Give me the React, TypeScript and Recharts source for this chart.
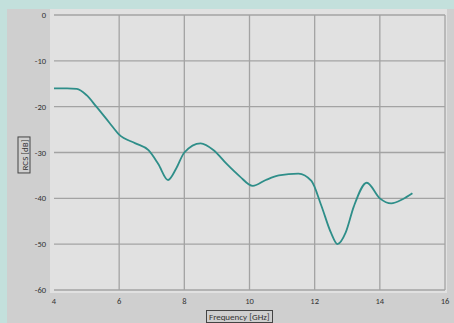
import { LineChart, Line, XAxis, YAxis, CartesianGrid } from "recharts"

const frequency = [
  4.0, 4.4, 4.7, 5.0, 5.3, 5.7, 6.0, 6.5, 6.9, 7.2, 7.5, 7.75, 8.0, 8.5, 8.9, 9.3,
  9.7, 10.1, 10.5, 10.9, 11.5, 11.9, 12.2, 12.5, 12.7, 12.95, 13.2, 13.6, 14.0,
  14.35, 14.7, 15.0,
]
const rcs = [
  -16.0, -16.0, -16.1, -17.5, -20.0, -23.5, -26.1, -28.0, -29.5, -32.5, -36.0,
  -33.5, -30.0, -28.0, -29.5, -32.5, -35.2, -37.3, -36.0, -35.0, -34.6, -36.2,
  -41.5, -47.5, -50.0, -47.5, -41.8, -36.6, -40.0, -41.1, -40.2, -38.9,
]
const xTicks = [4, 6, 8, 10, 12, 14, 16]
const yTicks = [0, -10, -20, -30, -40, -50, -60]
// vertical gridlines (none at the left edge)
const xGrid = [6, 8, 10, 12, 14, 16]
const xDomain = [4, 16]

const data = frequency.map((f, i) => ({ f, rcs: rcs[i] }))

const font = "Calibri, Carlito, 'Liberation Sans', Arial, sans-serif"

const verticalGrid = (props: any) => {
  const { offset } = props
  const span = xDomain[1] - xDomain[0]
  return xGrid.map((v) => offset.left + ((v - xDomain[0]) / span) * offset.width)
}

export default function App() {
  return (
    <div
      style={{
        position: "fixed",
        left: 0,
        top: 0,
        width: 454,
        height: 323,
        background: "#c3e0dc",
        overflow: "hidden",
        fontFamily: font,
      }}
    >
      <div
        style={{
          position: "absolute",
          left: 7,
          top: 9,
          width: 447,
          height: 314,
          background: "#cfcfcf",
        }}
      />
      <div
        style={{
          position: "absolute",
          left: 50,
          top: 9,
          width: 397,
          height: 284,
          background: "#e1e1e1",
        }}
      />
      <div style={{ position: "absolute", left: 0, top: 0 }}>
        <LineChart
          width={454}
          height={323}
          data={data}
          margin={{ top: 15, right: 9, bottom: 0, left: 0 }}
        >
          <CartesianGrid
            stroke="#a3a3a3"
            strokeWidth={1.3}
            verticalCoordinatesGenerator={verticalGrid}
          />
          <XAxis
            type="number"
            dataKey="f"
            domain={xDomain}
            ticks={xTicks}
            axisLine={false}
            tickLine={false}
            height={33}
            tick={{ fontSize: 8.5, fill: "#333", fontFamily: font }}
          />
          <YAxis
            type="number"
            domain={[-60, 0]}
            ticks={yTicks}
            axisLine={false}
            tickLine={false}
            width={54}
            tick={{ fontSize: 8.5, fill: "#333", fontFamily: font }}
          />
          <Line
            type="monotone"
            dataKey="rcs"
            stroke="#2e8e89"
            strokeWidth={1.8}
            dot={false}
            isAnimationActive={false}
          />
        </LineChart>
      </div>
      <div
        style={{
          position: "absolute",
          left: 206,
          top: 310,
          height: 11,
          padding: "0 2px",
          border: "1px solid #444",
          fontSize: 9,
          lineHeight: "11px",
          color: "#333",
          whiteSpace: "nowrap",
        }}
      >
        Frequency [GHz]
      </div>
      <div
        style={{
          position: "absolute",
          left: 24,
          top: 155,
          transform: "translate(-50%, -50%) rotate(-90deg)",
          height: 11,
          padding: "0 2px",
          border: "1px solid #444",
          fontSize: 9,
          lineHeight: "11px",
          color: "#333",
          whiteSpace: "nowrap",
        }}
      >
        RCS [dB]
      </div>
    </div>
  )
}
